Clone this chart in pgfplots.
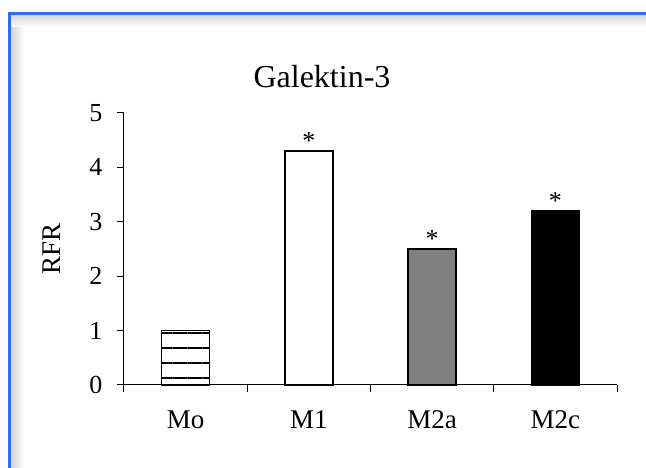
\documentclass[border=0pt]{standalone}
\usepackage{pgfplots}
\pgfplotsset{compat=1.18}
\usepackage{fontspec}
\setmainfont{Liberation Serif}
\usetikzlibrary{patterns.meta}
\definecolor{frameblue}{HTML}{2F6BFF}
\begin{document}
\begin{tikzpicture}[x=1pt,y=1pt]
\useasboundingbox (0,0) rectangle (646,468);
\fill[white] (0,0) rectangle (646,468);
\shade[left color=black!16, right color=white] (11.5,0) rectangle (24,453);
\shade[top color=black!16, bottom color=white] (11.5,441) rectangle (646,453);
\draw[frameblue, line width=3.2pt] (9.8,-5) -- (9.8,454.5) -- (660,454.5);
\node[anchor=base, font=\fontsize{32}{32}\selectfont] at (322,380) {Galektin-3};
\begin{axis}[
  at={(124pt,83pt)}, anchor=south west,
  scale only axis, width=493pt, height=272pt,
  xmin=-0.5, xmax=3.5, ymin=0, ymax=5,
  axis x line*=bottom, axis y line*=left,
  axis line style={-, black, line width=1pt},
  tick align=outside, major tick length=7pt,
  tick style={black, line width=1pt},
  xtick={-0.5,0.5,1.5,2.5,3.5}, xticklabels={},
  extra x ticks={0,1,2,3}, extra x tick labels={Mo,M1,M2a,M2c},
  extra x tick style={major tick length=0pt},
  ytick={0,1,2,3,4,5}, yticklabels={0,1,2,3,4,5},
  ticklabel style={font=\fontsize{26}{26}\selectfont},
  xticklabel style={font=\fontsize{27}{27}\selectfont, yshift=-22pt},
  yticklabel style={xshift=-11pt},
  ylabel={RFR},
  ylabel style={font=\fontsize{27}{27}\selectfont, at={(axis description cs:0,0.5)}, anchor=center, yshift=72pt},
  ybar, bar width=48pt, bar shift=0pt,
  every axis plot/.append style={draw=black, line width=1.4pt},
  clip=false,
]
\addplot[fill=white, pattern={Lines[angle=0, distance=15pt, line width=2pt]}, pattern color=black] coordinates {(0,1.0)};
\addplot[fill=white, nodes near coords={*}, every node near coord/.append style={font=\fontsize{26}{26}\selectfont, anchor=south, inner sep=0pt, yshift=1pt}] coordinates {(1,4.3)};
\addplot[fill=black!50, nodes near coords={*}, every node near coord/.append style={font=\fontsize{26}{26}\selectfont, anchor=south, inner sep=0pt, yshift=1pt}] coordinates {(2,2.5)};
\addplot[fill=black, nodes near coords={*}, every node near coord/.append style={font=\fontsize{26}{26}\selectfont, anchor=south, inner sep=0pt, yshift=1pt}] coordinates {(3,3.2)};
\end{axis}
\end{tikzpicture}
\end{document}
